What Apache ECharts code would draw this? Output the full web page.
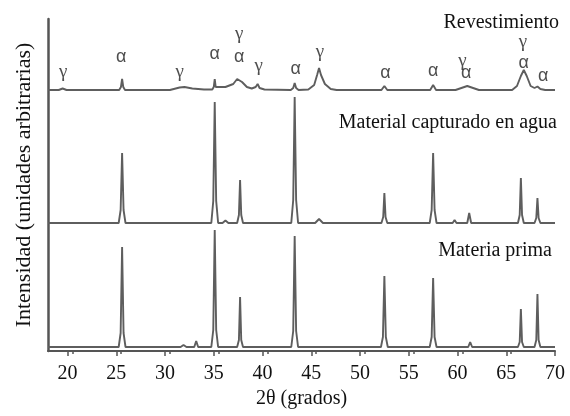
<!DOCTYPE html>
<html>
<head>
<meta charset="utf-8">
<script src="https://cdn.jsdelivr.net/npm/echarts@6/dist/echarts.min.js"></script>
<style>html,body{margin:0;padding:0;background:#fff}#c{width:570px;height:416px}</style>
</head>
<body>
<div id="c"></div>
<script>
// 2θ ticks
const xTicks = [20, 25, 30, 35, 40, 45, 50, 55, 60, 65, 70];

// Materia prima (bottom trace), arbitrary intensity with offset
const mpX = [18, 25.25, 25.45, 25.6, 25.75, 25.95, 31.6, 31.9, 32.2, 33.0, 33.2, 33.4, 34.75, 34.95, 35.1, 35.25, 35.45, 36.6, 36.8, 37.0, 37.4, 37.58, 37.7, 37.82, 38.0, 39.8, 40.0, 40.2, 42.1, 42.3, 42.5, 42.95, 43.15, 43.3, 43.45, 43.65, 45.8, 46.0, 46.2, 52.15, 52.35, 52.5, 52.65, 52.85, 57.15, 57.35, 57.5, 57.65, 57.85, 59.5, 59.7, 59.9, 61.1, 61.3, 61.5, 66.2, 66.38, 66.5, 66.62, 66.8, 67.9, 68.08, 68.2, 68.32, 68.5, 70];
const mpY = [4, 4, 18, 104, 18, 4, 4, 6, 4, 4, 10, 4, 4, 21, 121, 21, 4, 4, 5.5, 4, 4, 11, 54, 11, 4, 4, 5.5, 4, 4, 5.5, 4, 4, 20, 115, 20, 4, 4, 5, 4, 4, 14, 75, 14, 4, 4, 14, 73, 14, 4, 4, 5.5, 4, 4, 9, 4, 4, 9, 42, 9, 4, 4, 11, 57, 11, 4, 4];

// Material capturado en agua (middle trace)
const mcX = [18, 25.25, 25.45, 25.6, 25.75, 25.95, 34.75, 34.95, 35.1, 35.25, 35.45, 35.9, 36.2, 36.5, 37.4, 37.58, 37.7, 37.82, 38.0, 39.2, 39.4, 39.6, 42.95, 43.15, 43.3, 43.45, 43.65, 45.4, 45.8, 46.2, 52.2, 52.38, 52.5, 52.62, 52.8, 57.15, 57.35, 57.5, 57.65, 57.85, 59.5, 59.7, 59.9, 61.0, 61.2, 61.4, 66.2, 66.38, 66.5, 66.62, 66.8, 67.9, 68.08, 68.2, 68.32, 68.5, 70];
const mcY = [128, 128, 141, 198, 141, 128, 128, 150, 249, 150, 128, 128, 130.5, 128, 128, 136, 171, 136, 128, 128, 130, 128, 128, 151, 254, 151, 128, 128, 132, 128, 128, 134, 158, 134, 128, 128, 141, 198, 141, 128, 128, 131, 128, 128, 138, 128, 128, 136, 173, 136, 128, 128, 133, 153, 133, 128, 128];

// Revestimiento (top trace)
const rvX = [18, 19.1, 19.5, 19.9, 25.3, 25.48, 25.6, 25.72, 25.9, 30.5, 31.5, 32.0, 32.8, 34.0, 34.85, 35.0, 35.1, 35.2, 35.35, 36.2, 37.0, 37.4, 37.6, 37.9, 38.4, 38.9, 39.3, 39.5, 39.7, 40.2, 42.9, 43.15, 43.3, 43.45, 43.7, 44.7, 45.3, 45.6, 45.8, 46.0, 46.4, 47.0, 47.6, 52.2, 52.5, 52.8, 57.2, 57.5, 57.8, 59.8, 60.4, 61.0, 61.6, 62.2, 65.6, 66.1, 66.5, 66.8, 67.1, 67.5, 67.9, 68.2, 68.5, 69, 70];
const rvY = [261, 261, 262.5, 261, 261, 264, 272, 264, 261, 261, 263.5, 264, 262.5, 261.5, 261.5, 264, 272, 264, 262, 264, 267, 272, 274, 269, 264, 262.5, 264, 267, 263, 261.5, 261, 263, 268, 263, 261, 261.5, 266, 276, 283, 276, 267, 262, 261, 261, 265, 261, 261, 266, 261, 261, 263, 265, 263, 261, 261, 265, 275, 281, 275, 265, 263, 264.5, 262, 261, 261];

// Phase labels above the top trace
const phaseText = ['γ', 'α', 'γ', 'α', 'γ', 'α', 'γ', 'α', 'γ', 'α', 'α', 'γ', 'α', 'γ', 'α', 'α'];
const phaseX = [19.55, 25.5, 31.5, 35.1, 37.6, 37.6, 39.6, 43.4, 45.9, 52.6, 57.5, 60.5, 60.9, 66.7, 66.8, 68.8];
const phaseY = [279, 294, 279, 297, 317, 294, 285, 282, 299, 278, 280, 290, 278, 309, 288, 275];

// Trace titles
const traceTitles = ['Revestimiento', 'Material capturado en agua', 'Materia prima'];

const zip = (a, b) => a.map((v, i) => [v, b[i]]);
const lineStyle = { color: '#5e5e5e', width: 1.9 };
const chart = echarts.init(document.getElementById('c'));
const serif = '"Liberation Serif", "Times New Roman", serif';
const sans = '"Liberation Sans", Arial, sans-serif';

chart.setOption({
  animation: false,
  grid: { left: 48, right: 15, top: 19, bottom: 65 },
  xAxis: {
    type: 'value', min: 18, max: 70, interval: 5,
    name: '2θ (grados)', nameLocation: 'middle', nameGap: 38,
    nameTextStyle: { fontFamily: serif, fontSize: 20, color: '#111' },
    axisLine: { show: true, lineStyle: { color: '#555', width: 2 } },
    axisTick: { show: true, inside: false, length: 5, lineStyle: { color: '#555', width: 1.5 }, customValues: xTicks },
    minorTick: { show: true, splitNumber: 2, length: 3, lineStyle: { color: '#555', width: 1.5 } },
    axisLabel: { fontFamily: serif, fontSize: 20, color: '#111', margin: 13, customValues: xTicks },
    splitLine: { show: false }
  },
  yAxis: {
    type: 'value', min: 0, max: 332,
    name: 'Intensidad (unidades arbitrarias)', nameLocation: 'middle', nameGap: 13,
    nameTextStyle: { fontFamily: serif, fontSize: 22, color: '#111' },
    axisLine: { show: true, lineStyle: { color: '#555', width: 2.5 } },
    axisTick: { show: false },
    axisLabel: { show: false },
    splitLine: { show: false }
  },
  series: [
    { type: 'line', data: zip(mpX, mpY), showSymbol: false, lineStyle, z: 3 },
    { type: 'line', data: zip(mcX, mcY), showSymbol: false, lineStyle, z: 3 },
    { type: 'line', data: zip(rvX, rvY), showSymbol: false, lineStyle, z: 3 },
    {
      type: 'scatter', symbolSize: 0,
      data: phaseX.map((x, i) => ({
        value: [x, phaseY[i]], name: phaseText[i],
        label: { fontFamily: phaseText[i] === 'γ' ? serif : sans, fontSize: phaseText[i] === 'γ' ? 19 : 18 }
      })),
      label: {
        show: true, position: 'inside', formatter: p => p.name,
        fontFamily: sans, fontSize: 18, color: '#222'
      }
    }
  ],
  graphic: [
    { type: 'text', right: 11, top: 13, style: { text: traceTitles[0], font: '20px ' + serif, fill: '#111' } },
    { type: 'text', right: 13, top: 113, style: { text: traceTitles[1], font: '20px ' + serif, fill: '#111' } },
    { type: 'text', right: 18, top: 241, style: { text: traceTitles[2], font: '20px ' + serif, fill: '#111' } }
  ]
});
</script>
</body>
</html>
